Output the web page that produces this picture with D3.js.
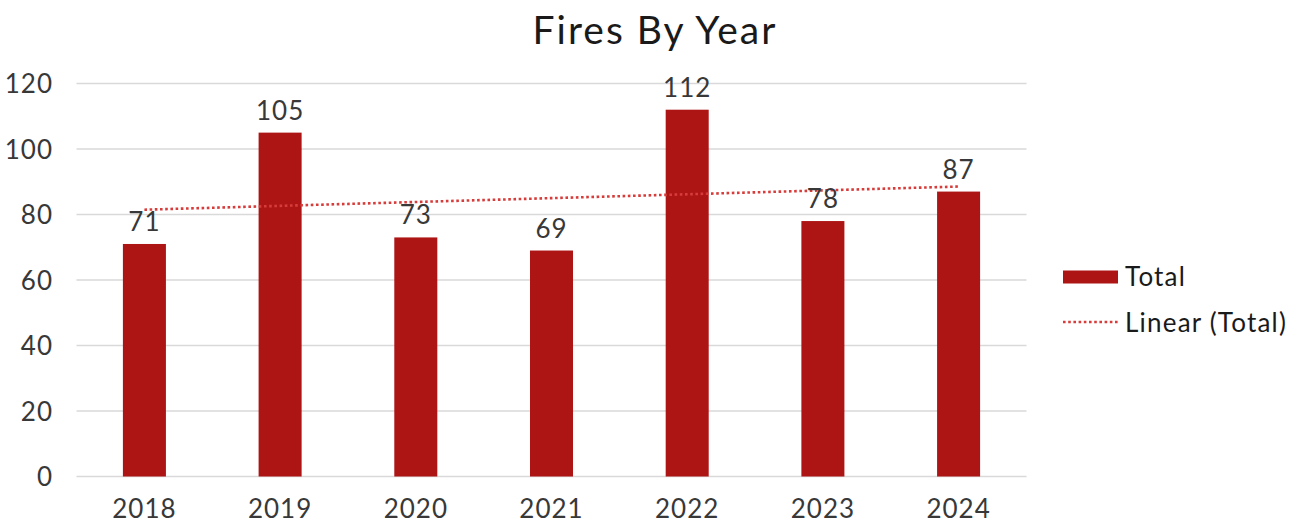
<!DOCTYPE html>
<html><head><meta charset="utf-8">
<script src="https://cdn.jsdelivr.net/npm/d3@7"></script>
<style>
html,body{margin:0;padding:0;background:#fff;}
text{font-family:"Lato","Open Sans",sans-serif;}
</style></head>
<body>
<svg id="chart" width="1299" height="527"></svg>
<script>
const years = ["2018","2019","2020","2021","2022","2023","2024"];
const totals = [71,105,73,69,112,78,87];
const yTicks = [0,20,40,60,80,100,120];
const title = "Fires By Year";
const seriesName = "Total";
const trendName = "Linear (Total)";

const svg = d3.select("#chart");
const barColor = "#AD1515";
const trendColor = "#D63C3A";
const textColor = "#383838";

const x = d3.scaleBand().domain(years).range([76.5, 1026.5]).paddingInner(0.683).paddingOuter(0.342);
const y = d3.scaleLinear().domain([0,120]).range([476.5, 83.5]);

// gridlines
svg.append("g").selectAll("line").data(yTicks).join("line")
  .attr("x1", 76.5).attr("x2", 1026.5)
  .attr("y1", d => y(d)).attr("y2", d => y(d))
  .attr("stroke", "#d9d9d9").attr("stroke-width", 1.3);

// y axis labels
const yAxis = d3.axisLeft(y).tickValues(yTicks).tickSize(0).tickPadding(0);
const gy = svg.append("g").attr("transform", "translate(53,0)").call(yAxis);
gy.select(".domain").remove();
gy.selectAll("text").attr("font-size", 26).attr("fill", textColor).attr("font-family", "Lato, sans-serif")
  .attr("letter-spacing", "1px").attr("dy", "0.35em");

// x axis labels
const xAxis = d3.axisBottom(x).tickSize(0).tickPadding(0);
const gx = svg.append("g").attr("transform", "translate(0,498)").call(xAxis);
gx.select(".domain").remove();
gx.selectAll("text").attr("font-size", 26).attr("fill", textColor).attr("font-family", "Lato, sans-serif")
  .attr("letter-spacing", "1px").attr("dy", "0.75em");

// bars
svg.append("g").selectAll("rect").data(totals).join("rect")
  .attr("x", (d,i) => x(years[i]))
  .attr("width", x.bandwidth())
  .attr("y", d => y(d))
  .attr("height", d => y(0) - y(d))
  .attr("fill", barColor);

// trendline (least squares)
const n = totals.length;
const xs = d3.range(1, n+1);
const mx = d3.mean(xs), my = d3.mean(totals);
const slope = d3.sum(xs.map((xi,i) => (xi-mx)*(totals[i]-my))) / d3.sum(xs.map(xi => (xi-mx)**2));
const icpt = my - slope*mx;
const cx = yr => x(yr) + x.bandwidth()/2;
svg.append("line")
  .attr("x1", cx(years[0])).attr("y1", y(icpt + slope*1))
  .attr("x2", cx(years[n-1])).attr("y2", y(icpt + slope*n))
  .attr("stroke", trendColor).attr("stroke-width", 2.6)
  .attr("stroke-dasharray", "2.6,2.6");

// data labels
svg.append("g").selectAll("text").data(totals).join("text")
  .attr("x", (d,i) => cx(years[i]))
  .attr("y", d => y(d) - 13)
  .attr("text-anchor", "middle")
  .attr("font-size", 26).attr("fill", textColor).attr("letter-spacing", "1px")
  .text(d => d);

// title
svg.append("text").attr("x", 655).attr("y", 44).attr("text-anchor", "middle")
  .attr("font-size", 39).attr("fill", "#1a1a1a").attr("letter-spacing", "2px").text(title);

// legend
const lg = svg.append("g");
lg.append("rect").attr("x", 1063).attr("y", 270.5).attr("width", 55).attr("height", 13).attr("fill", barColor);
lg.append("text").attr("x", 1125).attr("y", 286).attr("font-size", 26).attr("fill", "#1a1a1a").attr("letter-spacing", "1.2px").text(seriesName);
lg.append("line").attr("x1", 1063).attr("x2", 1118).attr("y1", 322).attr("y2", 322)
  .attr("stroke", trendColor).attr("stroke-width", 2.6).attr("stroke-dasharray", "2.6,2.6");
lg.append("text").attr("x", 1125).attr("y", 332).attr("font-size", 26).attr("fill", "#1a1a1a").attr("letter-spacing", "1.2px").text(trendName);
</script>
</body></html>
